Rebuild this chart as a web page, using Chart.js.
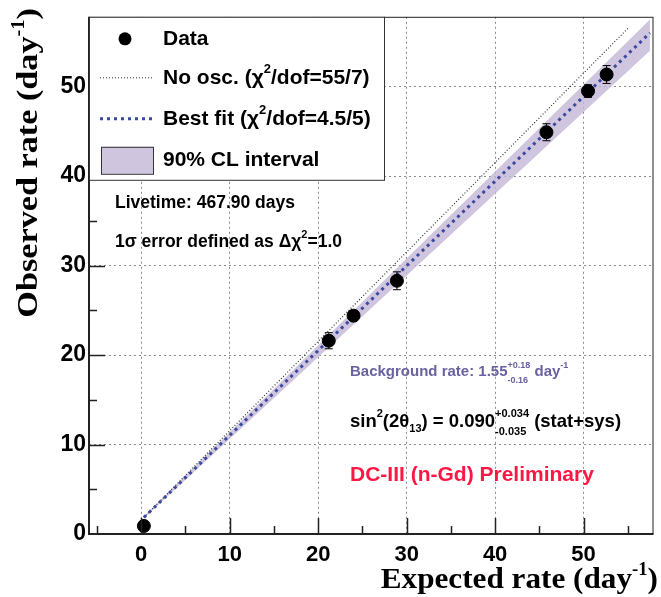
<!DOCTYPE html>
<html>
<head>
<meta charset="utf-8">
<script src="https://cdn.jsdelivr.net/npm/chart.js@4.4.0/dist/chart.umd.min.js"></script>
<style>
  html, body { margin: 0; padding: 0; background: #fff; }
  #wrap { width: 661px; height: 597px; }
</style>
</head>
<body>
<div id="wrap"><canvas id="c" width="661" height="597"></canvas></div>
<script>
// measured points (expected vs observed rate, day^-1)
const dataX = [0.3, 21.2, 24.0, 28.9, 45.8, 50.5, 52.6];
const dataY = [0.9, 21.6, 24.4, 28.3, 44.9, 49.5, 51.35];
const dataErr = [0.3, 0.9, 0.5, 1.0, 0.95, 0.7, 1.0];

// best fit line and 90% CL band
const fitX = [0.3, 57.5];
const fitY = [1.85, 56.0];
const bandX = [0.3, 57.5];
const bandHigh = [1.95, 57.5];
const bandLow = [1.75, 54.0];

// no oscillation prediction
const noOscX = [0.3, 55.0];
const noOscY = [1.85, 56.5];

const xTicks = [0, 10, 20, 30, 40, 50];
const yTicks = [0, 10, 20, 30, 40, 50];

const SANS = "'Liberation Sans', Arial, Helvetica, sans-serif";
const SERIF = "'Liberation Serif', 'Times New Roman', serif";
const BAND_FILL = 'rgba(196, 182, 214, 0.8)';
const FIT_BLUE = '#3a4a9e';

const pts = (xs, ys) => xs.map((x, i) => ({ x: x, y: ys[i] }));

// draw text with super/subscripts, parts: [text, kind, text2]
function drawRich(ctx, x, y, parts, size, color) {
  ctx.save();
  ctx.fillStyle = color;
  ctx.textBaseline = 'middle';
  ctx.textAlign = 'left';
  let cx = x;
  parts.forEach(p => {
    const [t, kind, t2] = p;
    if (!kind) {
      ctx.font = `bold ${size}px ${SANS}`;
      ctx.fillText(t, cx, y);
      cx += ctx.measureText(t).width;
    } else if (kind === 'sup') {
      ctx.font = `bold ${Math.round(size * 0.62)}px ${SANS}`;
      ctx.fillText(t, cx, y - size * 0.42);
      cx += ctx.measureText(t).width;
    } else if (kind === 'sub') {
      ctx.font = `bold ${Math.round(size * 0.62)}px ${SANS}`;
      ctx.fillText(t, cx, y + size * 0.35);
      cx += ctx.measureText(t).width;
    } else if (kind === 'supsub') {
      ctx.font = `bold ${Math.round(size * 0.62)}px ${SANS}`;
      ctx.fillText(t, cx, y - size * 0.45);
      ctx.fillText(t2, cx, y + size * 0.55);
      cx += Math.max(ctx.measureText(t).width, ctx.measureText(t2).width);
    }
  });
  ctx.restore();
}

// axis title "<text> (day^-1)" drawn right-aligned at origin, stretched by sx
function drawAxisTitle(ctx, text, sx) {
  const big = `bold 30px ${SERIF}`;
  const small = `bold 18px ${SERIF}`;
  ctx.scale(sx, 1);
  ctx.textAlign = 'right';
  ctx.textBaseline = 'alphabetic';
  ctx.font = small;
  const wSup = ctx.measureText('-1').width;
  ctx.font = big;
  const wPar = ctx.measureText(')').width;
  ctx.fillText(')', 0, 0);
  ctx.font = small;
  ctx.fillText('-1', -wPar, -13);
  ctx.font = big;
  ctx.fillText(text + ' (day', -wPar - wSup, 0);
}

const errorBars = {
  id: 'errorBars',
  afterDatasetsDraw(chart) {
    const { ctx, scales: { x, y } } = chart;
    ctx.save();
    ctx.strokeStyle = '#000';
    ctx.lineWidth = 1;
    dataX.forEach((v, i) => {
      const px = x.getPixelForValue(v);
      const y1 = y.getPixelForValue(dataY[i] + dataErr[i]);
      const y2 = y.getPixelForValue(dataY[i] - dataErr[i]);
      ctx.beginPath();
      ctx.moveTo(px, y1); ctx.lineTo(px, y2);
      ctx.moveTo(px - 4, y1); ctx.lineTo(px + 4, y1);
      ctx.moveTo(px - 4, y2); ctx.lineTo(px + 4, y2);
      ctx.stroke();
    });
    ctx.restore();
  }
};

const frameAndText = {
  id: 'frameAndText',
  afterDraw(chart) {
    const { ctx, chartArea: a, scales: { x, y } } = chart;
    ctx.save();

    // frame
    ctx.strokeStyle = '#222';
    ctx.lineWidth = 1;
    ctx.strokeRect(a.left + 0.5, a.top + 0.5, a.right - a.left - 1, a.bottom - a.top - 1);
    ctx.lineWidth = 2;
    ctx.beginPath();
    ctx.moveTo(a.left, a.top); ctx.lineTo(a.left, a.bottom); ctx.lineTo(a.right, a.bottom);
    ctx.stroke();

    // inside ticks
    ctx.lineWidth = 1.5;
    ctx.beginPath();
    for (let v = -5; v <= 55; v += 5) {
      const px = Math.round(x.getPixelForValue(v)) + 0.5;
      const len = v % 10 === 0 ? 16 : 8;
      ctx.moveTo(px, a.bottom); ctx.lineTo(px, a.bottom - len);
    }
    for (let v = 5; v <= 55; v += 5) {
      const py = Math.round(y.getPixelForValue(v)) + 0.5;
      const len = v % 10 === 0 ? 16 : 8;
      ctx.moveTo(a.left, py); ctx.lineTo(a.left + len, py);
    }
    ctx.stroke();

    // legend box
    const lx = a.left, ly = a.top, lw = 295, lh = 163;
    ctx.fillStyle = '#fff';
    ctx.fillRect(lx, ly, lw, lh);
    ctx.strokeStyle = '#333';
    ctx.lineWidth = 1;
    ctx.strokeRect(lx + 0.5, ly + 0.5, lw, lh);

    ctx.fillStyle = '#000';
    ctx.beginPath();
    ctx.arc(lx + 36, ly + 22, 6.5, 0, Math.PI * 2);
    ctx.fill();

    ctx.strokeStyle = '#333';
    ctx.lineWidth = 1;
    ctx.setLineDash([1, 2]);
    ctx.beginPath();
    ctx.moveTo(lx + 11, ly + 61); ctx.lineTo(lx + 63, ly + 61);
    ctx.stroke();

    ctx.strokeStyle = FIT_BLUE;
    ctx.lineWidth = 3;
    ctx.setLineDash([3, 4]);
    ctx.beginPath();
    ctx.moveTo(lx + 11, ly + 102); ctx.lineTo(lx + 63, ly + 102);
    ctx.stroke();
    ctx.setLineDash([]);

    ctx.fillStyle = BAND_FILL;
    ctx.fillRect(lx + 12, ly + 130, 52, 27);
    ctx.strokeStyle = '#333';
    ctx.lineWidth = 1;
    ctx.strokeRect(lx + 12.5, ly + 130.5, 52, 27);

    const tx = lx + 74;
    drawRich(ctx, tx, ly + 22, [['Data']], 21, '#000');
    drawRich(ctx, tx, ly + 61, [['No osc. (\u03c7'], ['2', 'sup'], ['/dof=55/7)']], 21, '#000');
    drawRich(ctx, tx, ly + 102, [['Best fit (\u03c7'], ['2', 'sup'], ['/dof=4.5/5)']], 21, '#000');
    drawRich(ctx, tx, ly + 143, [['90% CL interval']], 21, '#000');

    // annotations
    drawRich(ctx, 115, 203, [['Livetime: 467.90 days']], 17.5, '#000');
    drawRich(ctx, 115, 242, [['1\u03c3 error defined as \u0394\u03c7'], ['2', 'sup'], ['=1.0']], 17.5, '#000');
    drawRich(ctx, 350, 372, [['Background rate: 1.55'], ['+0.18', 'supsub', '-0.16'], [' day'], ['-1', 'sup']], 15, '#6a62a0');
    drawRich(ctx, 350, 422, [['sin'], ['2', 'sup'], ['(2\u03b8'], ['13', 'sub'], [') = 0.090'], ['+0.034', 'supsub', '-0.035'], [' (stat+sys)']], 18.5, '#000');
    drawRich(ctx, 350, 475, [['DC-III (n-Gd) Preliminary']], 21, '#ff1744');

    // axis titles
    ctx.fillStyle = '#000';
    ctx.save();
    ctx.translate(658, 588);
    drawAxisTitle(ctx, 'Expected rate', 1.04);
    ctx.restore();

    ctx.save();
    ctx.translate(37, 8);
    ctx.rotate(-Math.PI / 2);
    drawAxisTitle(ctx, 'Observed rate', 1.14);
    ctx.restore();

    ctx.restore();
  }
};

new Chart(document.getElementById('c'), {
  type: 'scatter',
  data: {
    datasets: [
      {
        label: 'Data',
        data: pts(dataX, dataY),
        pointRadius: 6.5,
        pointBackgroundColor: '#000',
        pointBorderColor: '#000',
        showLine: false
      },
      {
        label: 'Best fit',
        type: 'line',
        data: pts(fitX, fitY),
        borderColor: FIT_BLUE,
        borderWidth: 3,
        borderDash: [3, 4],
        pointRadius: 0,
        fill: false
      },
      {
        label: 'No osc.',
        type: 'line',
        data: pts(noOscX, noOscY),
        borderColor: '#333',
        borderWidth: 1.2,
        borderDash: [1, 2],
        pointRadius: 0,
        fill: false
      },
      {
        label: '90% CL high',
        type: 'line',
        data: pts(bandX, bandHigh),
        borderColor: 'rgba(0,0,0,0)',
        borderWidth: 0,
        pointRadius: 0,
        backgroundColor: BAND_FILL,
        fill: '+1'
      },
      {
        label: '90% CL low',
        type: 'line',
        data: pts(bandX, bandLow),
        borderColor: 'rgba(0,0,0,0)',
        borderWidth: 0,
        pointRadius: 0,
        fill: false
      }
    ]
  },
  options: {
    responsive: false,
    animation: false,
    layout: { padding: { top: 10, right: 1, left: 0, bottom: 0 } },
    plugins: { legend: { display: false }, tooltip: { enabled: false } },
    scales: {
      x: {
        type: 'linear',
        min: -5.9,
        max: 57.9,
        afterBuildTicks: s => { s.ticks = xTicks.map(v => ({ value: v })); },
        afterFit: s => { s.height = 63; },
        grid: { color: '#8a8a8a', lineWidth: 1, drawTicks: false },
        border: { display: false, dash: [2, 3] },
        ticks: { color: '#000', padding: 8, font: { family: SANS, size: 22, weight: 'bold' } }
      },
      y: {
        type: 'linear',
        min: 0,
        max: 57.8,
        afterBuildTicks: s => { s.ticks = yTicks.map(v => ({ value: v })); },
        afterFit: s => { s.width = 89; },
        grid: { color: '#8a8a8a', lineWidth: 1, drawTicks: false },
        border: { display: false, dash: [2, 3] },
        ticks: { color: '#000', padding: 3, font: { family: SANS, size: 23, weight: 'bold' } }
      }
    }
  },
  plugins: [errorBars, frameAndText]
});
</script>
</body>
</html>
